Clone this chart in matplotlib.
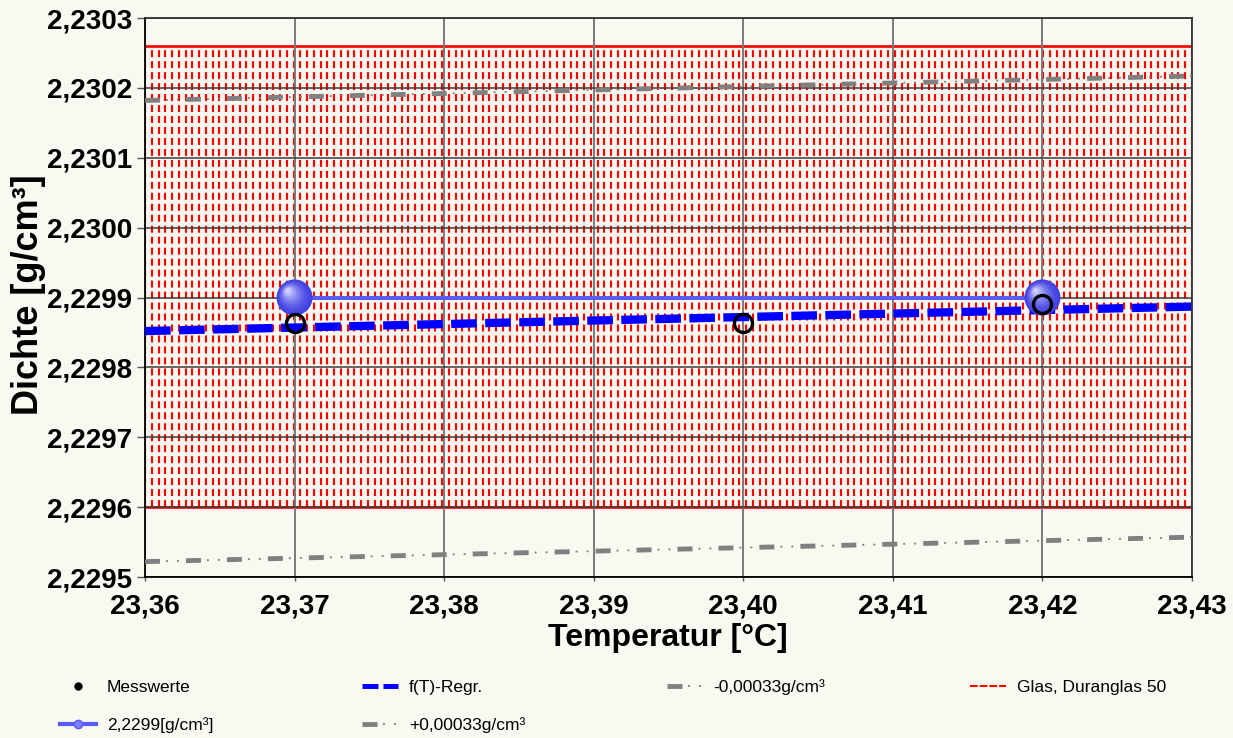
import numpy as np
import matplotlib
matplotlib.use("Agg")
import matplotlib.pyplot as plt
from matplotlib.lines import Line2D
from matplotlib.transforms import offset_copy
from matplotlib.legend_handler import HandlerTuple
from matplotlib.colors import to_rgb

plt.rcParams['font.family'] = ['Liberation Sans', 'DejaVu Sans']
plt.rcParams['lines.scale_dashes'] = False

# ---------------- data ----------------
x_range = [23.36, 23.43]
y_range = [2.2295, 2.2303]

meas_T = [23.37, 23.40, 23.42]
meas_rho = [2.229864, 2.229864, 2.229891]

mean_T = [23.37, 23.42]
mean_rho = [2.2299, 2.2299]

reg_T = [23.36, 23.43]
reg_rho = [2.229852, 2.229887]

tol = 0.00033

glass_lower = 2.2296
glass_upper = 2.23026

xticks = [23.36, 23.37, 23.38, 23.39, 23.40, 23.41, 23.42, 23.43]
xtick_labels = ['23,36', '23,37', '23,38', '23,39', '23,40', '23,41', '23,42', '23,43']
yticks = [2.2295, 2.2296, 2.2297, 2.2298, 2.2299, 2.2300, 2.2301, 2.2302, 2.2303]
ytick_labels = ['2,2295', '2,2296', '2,2297', '2,2298', '2,2299', '2,2300', '2,2301', '2,2302', '2,2303']

labels = ['Messwerte', '2,2299[g/cm³]', 'f(T)-Regr.', '+0,00033g/cm³', '-0,00033g/cm³', 'Glas, Duranglas 50']

# ---------------- figure ----------------
W, H = 1233, 738
bg = '#f9f8f1'
fig = plt.figure(figsize=(W / 100, H / 100), dpi=100, facecolor=bg)
ax = fig.add_axes([145 / W, 1 - 577 / H, 1047 / W, 559 / H], facecolor=bg)
ax.set_xlim(x_range)
ax.set_ylim(y_range)

# glass band: dense vertical red dashed lines
n_lines = 156
xs = np.linspace(x_range[0], x_range[1], n_lines)
ax.vlines(xs, glass_lower, glass_upper, colors='#ff0000', linewidth=1.55,
          linestyles=(0, (5.0, 2.9)), zorder=1)
ax.hlines([glass_lower, glass_upper], x_range[0], x_range[1], colors='#ff0000',
          linewidth=1.9, zorder=1.1)

# grid
ax.set_axisbelow('line')
ax.yaxis.grid(True, color='#3c3c3c', linewidth=1.1)
ax.xaxis.grid(True, color='#7a7a7a', linewidth=1.4)

# tolerance lines (dash + two dots)
gray = '#808080'
reg_arr = np.array(reg_rho)
tol_handles = []
for sign in (+1, -1):
    yv = reg_arr + sign * tol
    l1, = ax.plot(reg_T, yv, color=gray, linewidth=3.5,
                  linestyle=(0, (10.8, 18.7)), solid_capstyle='butt',
                  dash_capstyle='butt', zorder=3)
    l2, = ax.plot(reg_T, yv, color=gray, linewidth=1.3,
                  linestyle=(14.4, (1.4, 6.5, 1.4, 20.2)),
                  dash_capstyle='butt', zorder=3)
    tol_handles.append((l1, l2))

# regression
ax.plot(reg_T, reg_rho, color='#0000ff', linewidth=6.0,
        linestyle=(0, (18.5, 6.0)), dash_capstyle='butt', zorder=4)

# mean line
ax.plot(mean_T, mean_rho, color='#5b5bf5', linewidth=2.9, zorder=5,
        solid_capstyle='butt')

# spheres (shaded)
c0 = np.array(to_rgb('#4242e2'))
c1 = np.array(to_rgb('#cfcfff'))
n_layers = 9
for i in range(n_layers):
    f = i / (n_layers - 1)
    d = 36 * (1 - 0.85 * f)
    tr = offset_copy(ax.transData, fig=fig, x=-6.5 * f, y=6.5 * f, units='dots')
    g = f ** 1.6
    col = c0 * (1 - g) + c1 * g
    ax.scatter(mean_T, mean_rho, s=(d * 0.72) ** 2, color=col,
               edgecolors='none', transform=tr, zorder=6 + i * 0.01)

# measured values
ax.plot(meas_T, meas_rho, linestyle='none', marker='o', markersize=13,
        markerfacecolor='none', markeredgecolor='black', markeredgewidth=2.4,
        zorder=7)

# axes styling
ax.set_xticks(xticks)
ax.set_xticklabels(xtick_labels)
ax.set_yticks(yticks)
ax.set_yticklabels(ytick_labels)
ax.tick_params(axis='both', labelsize=20, width=1.0, color='#555555')
ax.tick_params(axis='y', length=6, pad=3)
ax.tick_params(axis='x', length=3, pad=9)
for t in ax.get_xticklabels() + ax.get_yticklabels():
    t.set_fontweight('bold')
for s in ['left', 'bottom']:
    ax.spines[s].set_color('black')
    ax.spines[s].set_linewidth(1.3)
for s in ['top', 'right']:
    ax.spines[s].set_color('#333333')
    ax.spines[s].set_linewidth(1.3)

fig.text(668 / W, 1 - 638 / H, 'Temperatur [°C]', fontsize=23, fontweight='bold',
         ha='center', va='center')
fig.text(29 / W, 1 - 295 / H, 'Dichte [g/cm³]', fontsize=26, fontweight='bold',
         ha='center', va='center', rotation=90)

# legend (one entry per legend for exact placement)
h_meas = Line2D([], [], linestyle='none', marker='o', color='black', markersize=5)
h_mean = Line2D([], [], color='#5b5bf5', linewidth=3, marker='o', markersize=6,
                markerfacecolor='#7c7cff', markeredgecolor='#5b5bf5')
h_reg = Line2D([], [], color='#0000ff', linewidth=3.6,
               linestyle=(0, (11.5, 3.6)), dash_capstyle='butt')
h_glass = Line2D([], [], color='#ff0000', linewidth=1.5, linestyle=(0, (5.5, 1.5)))
handles = [h_meas, h_mean, h_reg, tol_handles[0], tol_handles[1], h_glass]
positions = [(60, 687), (60, 725), (362, 687), (362, 725), (667, 687), (970, 687)]
for hd, lb, (px, py) in zip(handles, labels, positions):
    fig.legend([hd], [lb], loc='center left', bbox_to_anchor=(px / W, 1 - py / H),
               frameon=False, fontsize=12.5, handlelength=2.07, handletextpad=0.62,
               borderpad=0, borderaxespad=0,
               handler_map={tuple: HandlerTuple(ndivide=1)})

fig.savefig('out.png', dpi=100, facecolor=bg)
